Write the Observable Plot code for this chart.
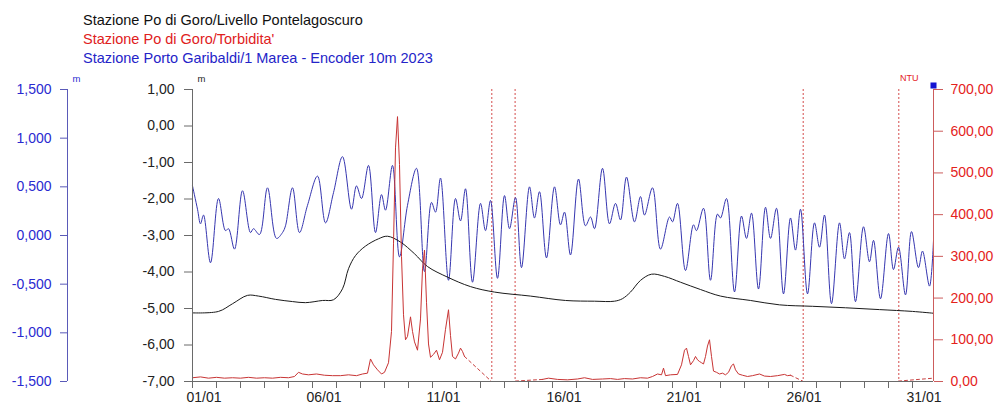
<!DOCTYPE html>
<html><head><meta charset="utf-8">
<script src="https://cdn.jsdelivr.net/npm/d3@7"></script>
<script src="https://cdn.jsdelivr.net/npm/@observablehq/plot@0.6"></script>
<style>
body{margin:0;background:#fff;font-family:"Liberation Sans",Arial,sans-serif;}
#titles{height:68px;box-sizing:border-box;padding:11px 0 0 83px;font-size:14.5px;line-height:19px;}
#chart svg{display:block;}
</style></head><body>
<div id="titles"></div>
<div id="chart"></div>
<script>
// ---- data ----
const titleTexts = ["Stazione Po di Goro/Livello Pontelagoscuro", "Stazione Po di Goro/Torbidita'", "Stazione Porto Garibaldi/1 Marea - Encoder 10m 2023"];
const titleColors = ["#111111", "#e0201c", "#2424c8"];

// hours since 2023-01-01 00:00
const blueHours = [0,5,8,11,18,26,33,36,42,50,58,61,67,75,84,90,93,100,107,115,125,133,141,150,159,164,169,176,183,189,193,200,207,215,224,232,239,243,248,256,263,268,273,280,288,293,298,305,312,317,323,329,337,342,347,354,362,368,372,378,386,393,398,402,410,417,423,428,434,442,448,452,460,468,477,480,485,493,501,504,511,518,525,528,534,542,549,554,559,566,573,578,584,591,598,603,608,615,622,627,632,639,647,652,657,663,671,677,681,688,696,701,706,713,719,726,730,737,741];
const blueValues = [0.51,0.27,0.12,0.21,-0.28,0.38,0.05,0.07,-0.14,0.46,0.03,0.07,0.01,0.49,-0.03,0.03,0.10,0.49,0.03,0.31,0.61,0.13,0.44,0.81,0.27,0.51,0.38,0.72,0.03,0.42,0.26,0.72,-0.22,0.31,0.69,-0.37,0.34,0.24,0.59,-0.46,0.38,0.15,0.48,-0.48,0.33,0.05,0.36,-0.44,0.41,0.07,0.39,-0.33,0.50,0.18,0.45,-0.23,0.50,0.11,0.24,-0.20,0.58,0.10,0.19,0.07,0.69,0.12,0.33,0.16,0.60,0.14,0.40,0.21,0.49,-0.14,0.19,0.14,0.33,-0.36,0.11,0.05,0.28,-0.46,0.22,0.18,0.38,-0.58,0.20,-0.03,0.23,-0.55,0.29,-0.03,0.28,-0.60,0.18,-0.15,0.27,-0.60,0.13,-0.12,0.21,-0.70,0.13,-0.24,0.03,-0.68,0.09,-0.27,-0.05,-0.65,0.02,-0.35,-0.12,-0.61,0.04,-0.33,-0.16,-0.52,-0.05];

const blackHours = [0,26,40,55,66,83,100,113,130,141,150,156,163,173,186,195,208,222,235,255,278,302,338,373,402,422,430,438,448,459,472,488,508,528,558,587,620,653,687,720,741];
const blackValues = [-5.12,-5.08,-4.87,-4.64,-4.66,-4.75,-4.81,-4.84,-4.78,-4.76,-4.46,-3.91,-3.55,-3.29,-3.09,-3.02,-3.18,-3.50,-3.85,-4.14,-4.40,-4.55,-4.66,-4.78,-4.80,-4.80,-4.73,-4.55,-4.23,-4.06,-4.12,-4.28,-4.48,-4.66,-4.78,-4.90,-4.94,-4.98,-5.03,-5.08,-5.13];

const redHours = [0,8,16,24,32,40,48,56,64,72,80,88,96,102,106,110,116,124,132,140,148,156,164,170,175,178,181,185,189,192,196,199,201,203,205,207,209,211,213,215,218,220,222,225,228,230,232,234,236,238,241,244,247,250,253,256,258,260,263,266,268,270,272,
  NaN,
  350,356,365,375,385,392,400,410,418,425,432,440,448,455,460,465,469,471,473,478,485,489,492,494,496,498,501,503,505,507,509,511,513,515,517,519,521,524,527,530,533,536,539,541,543,546,550,555,560,567,572,578,585,592,595,598];
const redValues = [9,11,8,10,8,9,8,10,8,9,8,10,9,12,22,18,16,18,15,14,14,16,14,18,20,54,40,28,18,22,45,120,330,560,635,520,300,160,100,108,155,120,95,75,150,270,315,190,90,58,65,75,52,70,125,172,110,60,54,68,80,72,60,
  NaN,
  5,8,5,4,6,9,5,6,7,5,7,6,9,8,12,18,16,32,14,16,17,40,75,80,60,40,50,60,52,48,45,42,60,85,100,60,25,22,18,20,16,22,38,42,28,18,15,12,14,18,13,12,14,17,14,15];
const redDashHours = [272,299,NaN,323,350,NaN,598,611,NaN,706,741];
const redDashValues = [60,0,NaN,1,5,NaN,15,0,NaN,1,8];
const gapHours = [299.3, 322.6, 610.7, 706.3];

const mainTicks = [-7,-6,-5,-4,-3,-2,-1,0,1];
const blueTicks = [-1.5,-1,-0.5,0,0.5,1,1.5];
const ntuTicks = [0,100,200,300,400,500,600,700];
const xTickDays = [1,6,11,16,21,26,31];
const xTickLabels = ["01/01","06/01","11/01","16/01","21/01","26/01","31/01"];
const unitLabels = ["m","m","NTU"];
const endHour = 741;

// ---- helpers ----
const T0 = Date.UTC(2023,0,1);
const toDate = h => new Date(T0 + h*3600e3);
const blueToMain = v => -7 + (v + 1.5) * 8 / 3;
const mainToBlue = y => (y + 7) * 3 / 8 - 1.5;
const ntuToMain = v => -7 + v * 8 / 700;
const mainToNtu = y => (y + 7) * 700 / 8;
const comma = (v, n) => v.toFixed(n).replace(".", ",");

const titles = document.getElementById("titles");
titleTexts.forEach((t, i) => {
  const d = document.createElement("div");
  d.textContent = t; d.style.color = titleColors[i];
  titles.appendChild(d);
});

const blue = blueHours.map((h,i) => ({t: toDate(h), y: blueToMain(blueValues[i])}));
const black = blackHours.map((h,i) => ({t: toDate(h), y: blackValues[i]}));
const red = redHours.map((h,i) => ({t: isNaN(h) ? null : toDate(h), y: isNaN(redValues[i]) ? NaN : ntuToMain(redValues[i])}));
const redDash = redDashHours.map((h,i) => ({t: isNaN(h) ? null : toDate(h), y: isNaN(redDashValues[i]) ? NaN : ntuToMain(redDashValues[i])}));
const gaps = gapHours.map(toDate);
const x0 = toDate(0), x1 = toDate(endHour);
const dayDates = d3.range(1, 32).map(d => new Date(Date.UTC(2023,0,d)));
const labelDates = xTickDays.map(d => new Date(Date.UTC(2023,0,d)));
const xLabelOf = d => xTickLabels[xTickDays.indexOf(d.getUTCDate())];

const FONT = '"Liberation Sans", Arial, sans-serif';
const cBlueAxis = "#5a5ab8", cBlueText = "#2a2ad0", cRedAxis = "#cc5c5c", cRedText = "#e4221c", cGray = "#6a6a6a";

const chart = Plot.plot({
  width: 997, height: 337,
  marginTop: 21, marginBottom: 24, marginLeft: 192, marginRight: 64,
  style: {fontFamily: FONT, fontSize: "14px", background: "#fff", overflow: "visible", color: "#222"},
  x: {type: "utc", domain: [x0, x1]},
  y: {domain: [-7, 1]},
  marks: [
    Plot.ruleX(gaps, {stroke: "#d44c4c", strokeDasharray: "2,2", strokeWidth: 1}),
    Plot.line(blue, {x: "t", y: "y", stroke: "#3636b0", strokeWidth: 1, curve: "catmull-rom"}),
    Plot.line(black, {x: "t", y: "y", stroke: "#1a1a1a", strokeWidth: 1, curve: "catmull-rom"}),
    Plot.line(redDash, {x: "t", y: "y", stroke: "#c84040", strokeWidth: 1, strokeDasharray: "3,3"}),
    Plot.line(red, {x: "t", y: "y", stroke: "#c83434", strokeWidth: 1}),
    // axis lines
    Plot.ruleX([x0], {stroke: cGray}),
    Plot.ruleX([x0], {stroke: cBlueAxis, dx: -125}),
    Plot.ruleX([x1], {stroke: cRedAxis}),
    Plot.ruleY([-7], {stroke: cGray}),
    // axes
    Plot.axisY(mainTicks, {anchor: "left", label: null, tickSize: 8, tickPadding: 10, tickFormat: d => comma(d, 2), color: "#222", stroke: cGray}),
    Plot.axisY(blueTicks.map(blueToMain), {anchor: "left", label: null, dx: -125, tickSize: 7, tickPadding: 9, tickFormat: d => comma(mainToBlue(d), 3), color: cBlueText, stroke: cBlueAxis}),
    Plot.axisY(ntuTicks.map(ntuToMain), {anchor: "right", label: null, tickSize: 9, tickPadding: 8, tickFormat: d => comma(mainToNtu(d), 2), color: cRedText, stroke: cRedAxis}),
    Plot.axisX(dayDates, {anchor: "bottom", label: null, tickSize: 7, tickFormat: () => "", stroke: cGray}),
    Plot.axisX(labelDates, {anchor: "bottom", label: null, tickSize: 0, tickPadding: 11, tickFormat: xLabelOf, textAnchor: "start", dx: -6, color: "#222"}),
    // unit labels
    Plot.text([unitLabels[0]], {text: d => d, frameAnchor: "top-left", dx: -120, dy: -14, fontSize: 9.5, fill: cBlueText}),
    Plot.text([unitLabels[1]], {text: d => d, frameAnchor: "top-left", dx: 5, dy: -14, fontSize: 9.5, fill: "#222"}),
    Plot.text([unitLabels[2]], {text: d => d, frameAnchor: "top-right", dx: -15, dy: -15, fontSize: 9, fill: cRedText}),
    Plot.dot([0], {frameAnchor: "top-right", symbol: "square", r: 3.4, fill: "#1414d2", stroke: null, dy: -4})
  ]
});
document.getElementById("chart").appendChild(chart);
</script>
</body></html>
